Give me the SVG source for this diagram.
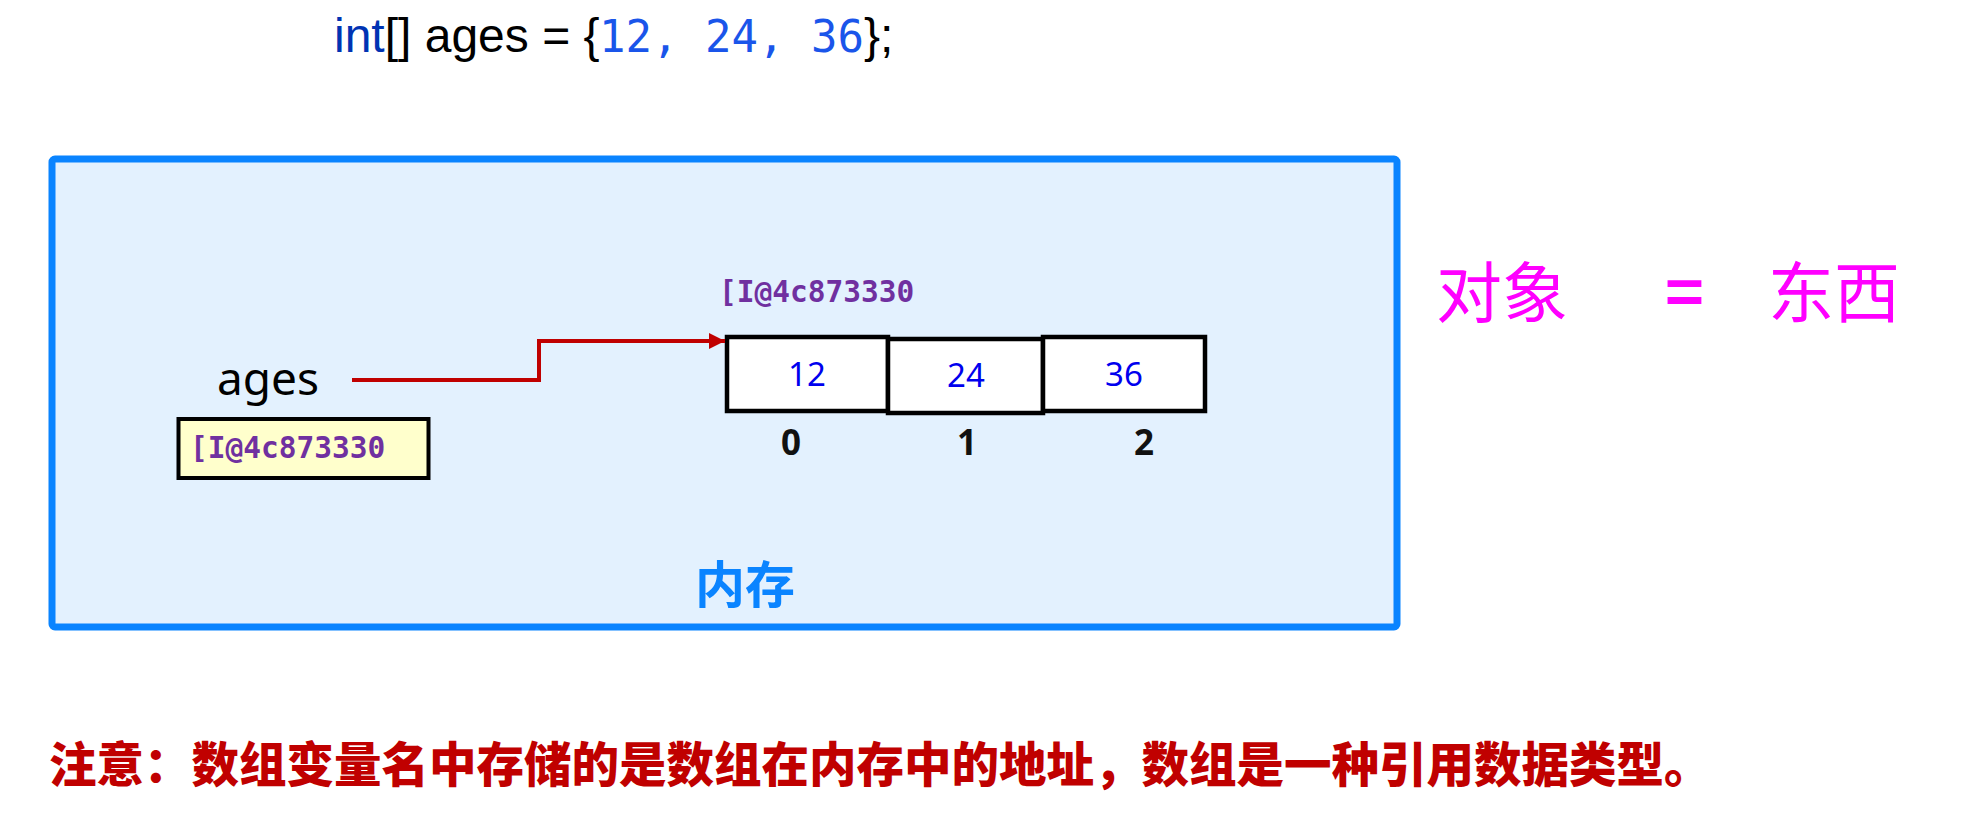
<svg xmlns="http://www.w3.org/2000/svg" width="1971" height="823" viewBox="0 0 1971 823">
<style>
.code{font-family:"Liberation Sans",Arial,sans-serif;font-size:48px;fill:#000}
.kw{fill:#0033b3}
.num{font-family:"DejaVu Sans Mono","Liberation Mono",monospace;font-size:44px;fill:#1a55ea}
.addr{font-family:"DejaVu Sans Mono","Liberation Mono",monospace;font-size:29.5px;font-weight:bold;fill:#7030a0}
.cell{fill:#fff;stroke:#000;stroke-width:4.5}
.val{font-family:"Noto Sans","Open Sans",sans-serif;font-size:33px;fill:#0000ee;text-anchor:middle}
.idx{font-family:"Noto Sans","Open Sans",sans-serif;font-size:35px;font-weight:bold;fill:#111;text-anchor:middle}
.cjk{font-family:"Noto Sans CJK SC","Noto Sans",sans-serif}
.hand{font-family:"Noto Sans CJK SC","Noto Sans",sans-serif;font-size:66px;fill:#ff00ff}
</style>
<defs>
<marker id="arr" viewBox="0 0 10 10" refX="10" refY="5" markerWidth="4" markerHeight="4" markerUnits="strokeWidth" orient="auto">
<path d="M0,0 L10,5 L0,10 Z" fill="#c00000"/>
</marker>
</defs>
<rect width="1971" height="823" fill="#fff"/>
<g id="code">
<text class="code" x="334" y="52"><tspan class="kw">int</tspan>[] ages = {</text>
<text class="num" x="599" y="52">12, 24, 36</text>
<text class="code" x="864" y="52">};</text>
</g>
<g id="memory">
<rect x="52" y="159" width="1345" height="468" rx="3" fill="#e3f1fe" stroke="#0a84ff" stroke-width="7"/>
<text class="cjk" x="695" y="603" font-size="50" font-weight="bold" fill="#0a84ff">内存</text>
</g>
<g id="ages">
<text x="217" y="395" font-family="Noto Sans, Open Sans, sans-serif" font-size="46" fill="#000">ages</text>
<rect x="178.5" y="419" width="250" height="59" fill="#ffffcc" stroke="#000" stroke-width="4"/>
<text class="addr" x="190" y="458">[I@4c873330</text>
</g>
<g id="array">
<text class="addr" x="719" y="302">[I@4c873330</text>
<rect class="cell" x="727" y="337" width="161" height="74"/>
<rect class="cell" x="888" y="339" width="155" height="74"/>
<rect class="cell" x="1043" y="337" width="162" height="74"/>
<text class="val" x="807" y="386">12</text>
<text class="val" x="966" y="387">24</text>
<text class="val" x="1124" y="386">36</text>
<text class="idx" x="791" y="455">0</text>
<text class="idx" x="967" y="455">1</text>
<text class="idx" x="1144" y="455">2</text>
</g>
<g id="connectors">
<path d="M352,380 H539 V341 H725" fill="none" stroke="#c00000" stroke-width="4" marker-end="url(#arr)"/>
</g>
<g id="object-note">
<text class="hand" x="1436" y="317">对象</text>
<text class="hand" x="1665" y="317" font-weight="bold">=</text>
<text class="hand" x="1768" y="317">东西</text>
</g>
<g id="footnote">
<text class="cjk" x="49" y="782" font-size="47.5" font-weight="900" fill="#c00000">注意：数组变量名中存储的是数组在内存中的地址，数组是一种引用数据类型。</text>
</g>
</svg>
